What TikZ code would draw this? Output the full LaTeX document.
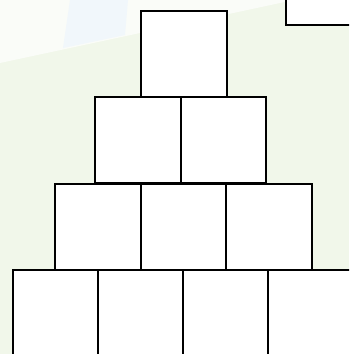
\documentclass[tikz,border=0pt]{standalone}
\definecolor{bggreen}{HTML}{F1F7EA}
\definecolor{bgwhite}{HTML}{FAFCF8}
\definecolor{bgblue}{HTML}{F1F7FB}
\tikzset{
  cube/.style={draw=black, fill=white, line width=2pt, rectangle, minimum width=85.5pt, minimum height=86pt, inner sep=0pt}
}
\begin{document}
\begin{tikzpicture}[x=1pt,y=-1pt]
\useasboundingbox (0,0) rectangle (349,354);
\clip (0,0) rectangle (349,354);
\fill[bggreen] (0,0) rectangle (349,354);
\fill[bgwhite] (0,0) -- (0,63) -- (140,33) -- (294,0) -- cycle;
\fill[bgblue] (70,0) -- (63,48) -- (125,35) -- (128,0) -- cycle;
% top right partial box
\node[cube] (tr) at (329,-18) {};
% row 1
\node[cube] (a1) at (184,54) {};
% row 2
\node[cube] (b1) at (138,140) {};
\node[cube] (b2) at (223.5,140) {};
% row 3
\node[cube] (c1) at (98,226.5) {};
\node[cube] (c2) at (183.5,226.5) {};
\node[cube] (c3) at (269,226.5) {};
% row 4
\node[cube] (d1) at (55.5,313) {};
\node[cube] (d2) at (140.5,313) {};
\node[cube] (d3) at (225.5,313) {};
\node[cube] (d4) at (310.5,313) {};
\end{tikzpicture}
\end{document}
